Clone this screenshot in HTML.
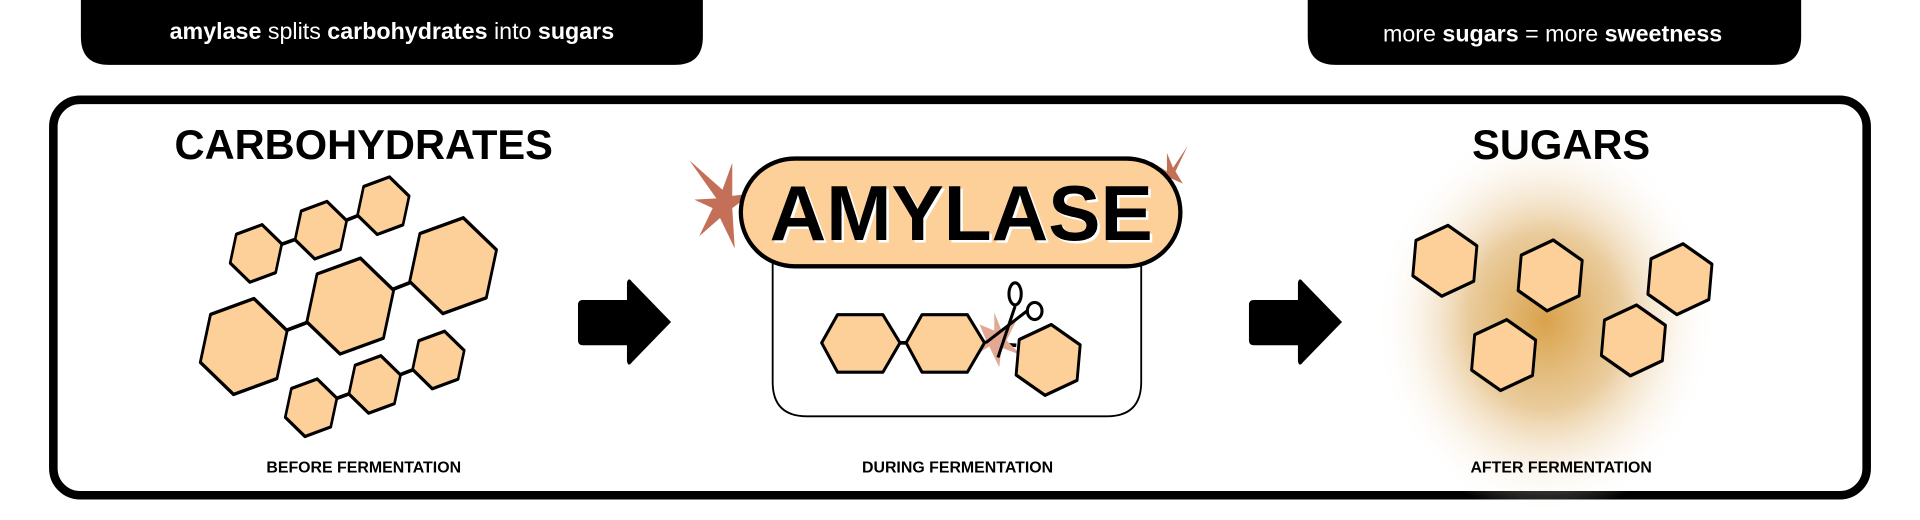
<!DOCTYPE html>
<html><head><meta charset="utf-8"><style>
html,body{margin:0;padding:0;background:#fff;}
svg{display:block}
text{font-family:"Liberation Sans",sans-serif;}
</style></head><body>
<svg width="1920" height="520" viewBox="0 0 1568 424.7" xmlns="http://www.w3.org/2000/svg">
<defs>
<radialGradient id="glow" cx="0.5" cy="0.5" r="0.5">
<stop offset="0" stop-color="#d9a24a"/>
<stop offset="0.45" stop-color="#e6c28a" stop-opacity="0.85"/>
<stop offset="1" stop-color="#fff" stop-opacity="0"/>
</radialGradient>
<path id="hp" d="M0,-1 L1,-0.5 L1,0.5 L0,1 L-1,0.5 L-1,-0.5 Z"/>
</defs>
<path d="M66,0 H574 V30 Q574,53 551,53 H89 Q66,53 66,30 Z" fill="#000"/>
<text x="320" y="32" text-anchor="middle" font-size="19" fill="#fff"><tspan font-weight="bold">amylase</tspan> splits <tspan font-weight="bold">carbohydrates</tspan> into <tspan font-weight="bold">sugars</tspan></text>
<path d="M1068,0 H1471 V30 Q1471,53 1448,53 H1091 Q1068,53 1068,30 Z" fill="#000"/>
<text x="1268" y="34" text-anchor="middle" font-size="19" fill="#fff">more <tspan font-weight="bold">sugars</tspan> = more <tspan font-weight="bold">sweetness</tspan></text>
<rect x="43.5" y="81.5" width="1481" height="323" rx="22" fill="#fff" stroke="#000" stroke-width="7"/>
<ellipse cx="1262" cy="262" rx="140" ry="160" fill="url(#glow)"/>
<text x="297" y="130" text-anchor="middle" font-size="34" font-weight="bold">CARBOHYDRATES</text>
<text x="1275" y="130" text-anchor="middle" font-size="34" font-weight="bold">SUGARS</text>
<g font-size="13" font-weight="bold" text-anchor="middle">
<text x="297" y="386">BEFORE FERMENTATION</text>
<text x="782" y="386">DURING FERMENTATION</text>
<text x="1275" y="386">AFTER FERMENTATION</text>
</g>
<g stroke="#000" stroke-width="3">
<line x1="209" y1="207" x2="262" y2="188"/><line x1="262" y1="188" x2="313" y2="168"/>
<line x1="199" y1="283" x2="286" y2="250"/><line x1="286" y1="250" x2="370" y2="217"/>
<line x1="254" y1="333" x2="306" y2="314"/><line x1="306" y1="314" x2="358" y2="294"/>
</g>
<g fill="#fdd09a" stroke="#000" stroke-linejoin="round">
<use href="#hp" stroke-width="0.115" transform="translate(209,207) rotate(12) scale(19,24)"/>
<use href="#hp" stroke-width="0.115" transform="translate(262,188) rotate(12) scale(19,24)"/>
<use href="#hp" stroke-width="0.115" transform="translate(313,168) rotate(12) scale(19,24)"/>
<use href="#hp" stroke-width="0.072" transform="translate(199,283) rotate(12) scale(32,40)"/>
<use href="#hp" stroke-width="0.072" transform="translate(286,250) rotate(12) scale(32,40)"/>
<use href="#hp" stroke-width="0.072" transform="translate(370,217) rotate(12) scale(32,40)"/>
<use href="#hp" stroke-width="0.115" transform="translate(254,333) rotate(12) scale(19,24)"/>
<use href="#hp" stroke-width="0.115" transform="translate(306,314) rotate(12) scale(19,24)"/>
<use href="#hp" stroke-width="0.115" transform="translate(358,294) rotate(12) scale(19,24)"/>
</g>
<path d="M476,245 H512 V231 Q513,226 516,230 L548,263 L516,296 Q513,300 512,295 V282 H476 Q472,282 472,278 V249 Q472,245 476,245 Z" fill="#000"/>
<path d="M1024,245 H1060 V231 Q1061,226 1064,230 L1096,263 L1064,296 Q1061,300 1060,295 V282 H1024 Q1020,282 1020,278 V249 Q1020,245 1024,245 Z" fill="#000"/>
<g fill="#fdd09a" stroke="#000" stroke-linejoin="round">
<use href="#hp" stroke-width="0.095" transform="translate(1180,213) rotate(5) scale(25,29)"/>
<use href="#hp" stroke-width="0.095" transform="translate(1266,225) rotate(5) scale(25,29)"/>
<use href="#hp" stroke-width="0.095" transform="translate(1372,228) rotate(5) scale(25,29)"/>
<use href="#hp" stroke-width="0.095" transform="translate(1228,290) rotate(5) scale(25,29)"/>
<use href="#hp" stroke-width="0.095" transform="translate(1334,278) rotate(5) scale(25,29)"/>
</g>
<path d="M631,210 V312 Q631,340 659,340 H904 Q932,340 932,312 V210" fill="#fff" stroke="#000" stroke-width="1.5"/>
<path d="M563,131 L590,155 L598,133 L598,160 L614,158 L598,170 L600,203 L588,178 L571,193 L582,170 L567,163 L585,162 Z" fill="#c46f58"/>
<path d="M970,119 L958,137 L953,125 L953,140 L940,132 L950,143 L945,151 L957,146 L966,150 L960,140 Z" fill="#c46f58"/>
<rect x="605" y="129.5" width="359" height="88" rx="44" fill="#fdd09a" stroke="#000" stroke-width="3.5"/>
<text x="787" y="198" text-anchor="middle" font-size="64" font-weight="bold" fill="#fff">AMYLASE</text>
<text x="785" y="196" text-anchor="middle" font-size="64" font-weight="bold" fill="#000">AMYLASE</text>
<line x1="735" y1="280" x2="740" y2="280" stroke="#000" stroke-width="3"/>
<line x1="795" y1="280" x2="830" y2="282" stroke="#000" stroke-width="3"/>
<path d="M800,265 L812,270 L812,255 L818,270 L830,262 L822,278 L834,290 L818,284 L816,300 L808,283 L796,290 L805,277 Z" fill="#e3a894"/>
<g fill="#fdd09a" stroke="#000" stroke-width="2.5" stroke-linejoin="round">
<path d="M671,280 L684,257 L721,257 L735,280 L721,304 L684,304 Z"/>
<path d="M740,280 L753,257 L790,257 L804,280 L790,304 L753,304 Z"/>
<use href="#hp" stroke-width="0.095" transform="translate(856,294) rotate(5) scale(25,29)"/>
</g>
<g stroke="#000" fill="none" stroke-width="2.5">
<line x1="805" y1="280" x2="840" y2="253"/>
<line x1="815" y1="292" x2="829" y2="250"/>
<ellipse cx="829" cy="240" rx="5" ry="9" fill="#fff"/>
<ellipse cx="845" cy="254" rx="6" ry="7" fill="#fff"/>
</g>
</svg>
</body></html>
